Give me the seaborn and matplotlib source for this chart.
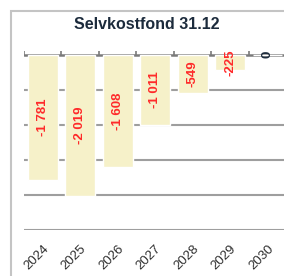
#!/usr/bin/env python3
"""Selvkostfond 31.12 — fund balance per year, redrawn with seaborn."""
import matplotlib

matplotlib.use("Agg")
import matplotlib.pyplot as plt  # noqa: E402
import pandas as pd  # noqa: E402
import seaborn as sns  # noqa: E402
from matplotlib.patches import Rectangle  # noqa: E402

years = ["2024", "2025", "2026", "2027", "2028", "2029", "2030"]
balance = [-1781, -2019, -1608, -1011, -549, -225, 0]
y_ticks = [0, -500, -1000, -1500, -2000, -2500]
title = "Selvkostfond 31.12"

BAR = "#f6f1c9"
RED = "#ff2a2a"
NAVY = "#1c2b3c"

sns.set_style("white")
plt.rcParams["font.family"] = ["Liberation Sans", "DejaVu Sans"]

df = pd.DataFrame({"year": years, "balance": balance})

fig = plt.figure(figsize=(2.84, 2.76), dpi=100)
ax = fig.add_axes([0.0845, 0.1667, 0.93, 0.6739])

for t in y_ticks:
    ax.axhline(t, color="#7a7a7a" if t == 0 else "#9e9e9e",
               lw=1.8 if t == 0 else 1.5, zorder=0)

sns.barplot(data=df, x="year", y="balance", color=BAR, width=0.8,
            saturation=1, ax=ax, zorder=2)

# small category-boundary ticks sitting on the zero line
ax.vlines([i - 0.5 for i in range(len(years) + 1)], 0, 45,
          color="#7a7a7a", lw=1.2, zorder=1)

for i, v in enumerate(balance):
    label = f"{v:,}".replace(",", " ")
    ax.text(i, v / 2, label, rotation=90, ha="center", va="center",
            fontsize=9.5, fontweight="bold", color=RED if v < 0 else NAVY,
            zorder=3)

ax.set_ylim(-2500, 150)
ax.set_xlim(-0.5, len(years) - 0.5 + 0.05)
ax.set_yticks([])
ax.set_xlabel("")
ax.set_ylabel("")
sns.despine(ax=ax, left=True, bottom=True, right=True, top=True)
ax.tick_params(axis="x", length=0, pad=9, labelsize=9.5, labelcolor="#2e2e2e")
for lab in ax.get_xticklabels():
    lab.set_rotation(45)
    lab.set_ha("right")
    lab.set_rotation_mode("anchor")

fig.text(0.518, 0.913, title, ha="center", va="center", fontsize=11.5,
         fontweight="bold", color=NAVY)

# outer chart frame, cropped by the image edge on the right and bottom
fig.patches.append(Rectangle((11 / 284, -0.1), 1.2, 1 - 11 / 276 + 0.1,
                             transform=fig.transFigure, fill=False,
                             edgecolor="#c4c4c4", lw=1.5))

fig.savefig("out.png", dpi=100)
